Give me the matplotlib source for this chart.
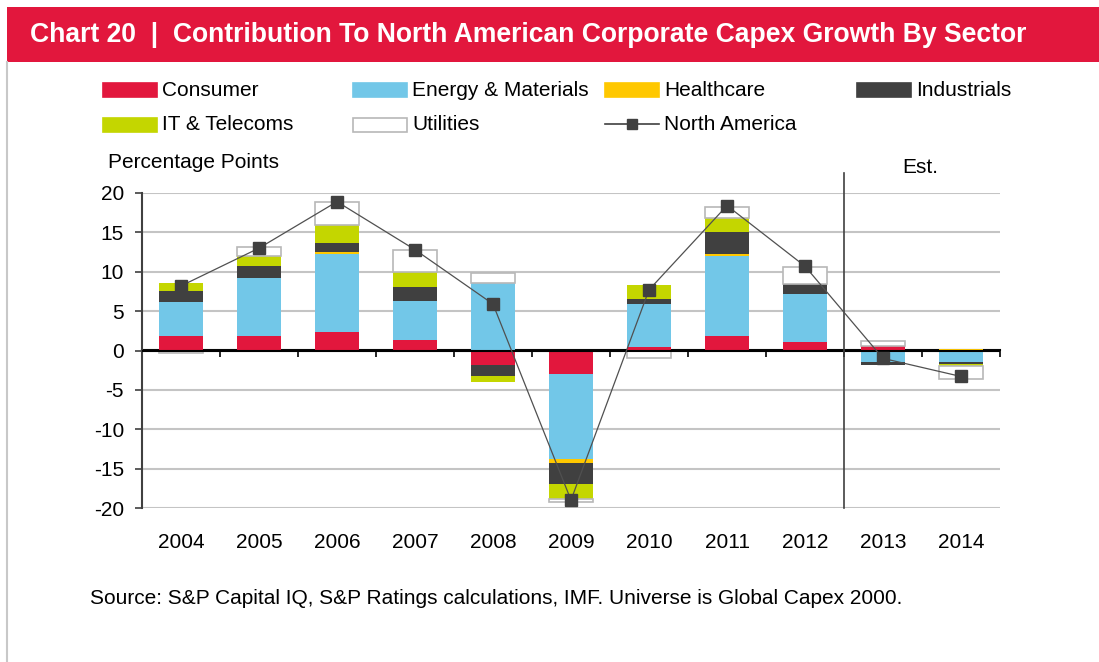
import numpy as np
import matplotlib
matplotlib.use("Agg")
import matplotlib.pyplot as plt
from matplotlib.patches import Rectangle
from matplotlib.lines import Line2D

plt.rcParams['font.family'] = ['Liberation Sans', 'DejaVu Sans']
plt.rcParams['axes.unicode_minus'] = False

years = ['2004', '2005', '2006', '2007', '2008', '2009', '2010', '2011', '2012', '2013', '2014']
consumer = [1.8, 1.8, 2.3, 1.3, -1.8, -3.0, 0.5, 1.8, 1.1, 0.6, 0.0]
energy = [4.3, 7.4, 9.9, 5.0, 8.6, -10.8, 5.4, 10.2, 6.1, -1.5, -1.5]
healthcare = [0.0, 0.0, 0.3, 0.0, 0.0, -0.5, 0.0, 0.2, 0.0, 0.0, 0.2]
industrials = [1.5, 1.5, 1.1, 1.8, -1.5, -2.7, 0.7, 2.8, 1.2, -0.4, -0.25]
it_telecoms = [1.0, 1.3, 2.3, 1.9, -0.7, -1.8, 1.7, 1.8, 0.0, 0.0, -0.2]
utilities = [-0.3, 1.2, 2.9, 2.7, 1.3, -0.4, -0.9, 1.4, 2.2, 0.6, -1.65]
north_america = [8.2, 13.0, 18.9, 12.8, 5.9, -19.0, 7.7, 18.4, 10.7, -1.0, -3.3]

sectors = ['Consumer', 'Energy & Materials', 'Healthcare', 'Industrials', 'IT & Telecoms', 'Utilities']
series = [consumer, energy, healthcare, industrials, it_telecoms, utilities]
colors = ['#E2173D', '#72C7E8', '#FFC800', '#404040', '#C4D600', '#FFFFFF']

W, H = 1099, 662
fig = plt.figure(figsize=(W / 100, H / 100), dpi=100)

def fx(px):
    return px / W

def fy(py):
    return 1 - py / H

# header band and frame
fig.add_artist(Rectangle((fx(7), fy(62)), fx(W - 7), fy(7) - fy(62),
                         transform=fig.transFigure, color='#E2173D', lw=0))
fig.add_artist(Line2D([fx(7), fx(7)], [fy(62), 0], transform=fig.transFigure,
                      color='#C8C8C8', lw=1.5))
fig.text(fx(30), fy(35), 'Chart 20  |  Contribution To North American Corporate Capex Growth By Sector',
         color='white', fontsize=19.1, fontweight='bold', va='center',
         family=['Liberation Sans Narrow', 'Liberation Sans', 'DejaVu Sans'])

# axes: x from 142 to 1000 px, y from 193 (20) to 508 (-20)
ax = fig.add_axes([fx(142), fy(508), fx(1000 - 142), fy(193) - fy(508)])
x = np.arange(len(years))
pos_bottom = np.zeros(len(years))
neg_bottom = np.zeros(len(years))
for name, vals, col in zip(sectors, series, colors):
    vals = np.array(vals)
    bottom = np.where(vals >= 0, pos_bottom, neg_bottom)
    if name == 'Utilities':
        ax.bar(x, vals, 0.56, bottom=bottom, color=col, edgecolor='#B8B8B8', lw=1.2, zorder=3)
    else:
        ax.bar(x, vals, 0.56, bottom=bottom, color=col, lw=0, zorder=3)
    pos_bottom += np.where(vals >= 0, vals, 0)
    neg_bottom += np.where(vals < 0, vals, 0)

ax.plot(x, north_america, color='#505050', lw=0.9, marker='s', ms=8,
        markerfacecolor='#404040', markeredgecolor='#404040', zorder=5)

ax.set_xlim(-0.5, len(years) - 0.5)
ax.set_ylim(-20, 20)
ax.set_yticks(np.arange(-20, 21, 5))
ax.yaxis.grid(True, color='#C4C4C4', lw=1.5, zorder=0)
ax.set_axisbelow(True)
for s in ['top', 'right', 'bottom']:
    ax.spines[s].set_visible(False)
ax.spines['left'].set_color('#404040')
ax.spines['left'].set_linewidth(1.5)
ax.tick_params(axis='y', length=5, width=1.2, color='#404040', labelsize=15, pad=8)
ax.set_xticks(x)
ax.set_xticklabels(years)
ax.tick_params(axis='x', length=0, labelsize=15, pad=18)

# zero axis line with ticks between categories, pointing down
ax.axhline(0, color='black', lw=1.5, zorder=4)
zero_ax = ax.secondary_xaxis(0.5)
zero_ax.set_xticks(np.arange(-0.5, len(years), 1))
zero_ax.set_xticklabels([])
zero_ax.tick_params(length=5, width=1.2, color='black', direction='in')
for s in ['top', 'bottom']:
    zero_ax.spines[s].set_linewidth(1.5)
    zero_ax.spines[s].set_color('black')

# estimate divider
ax.axvline(8.5, ymin=0, ymax=(22.5 + 20) / 40, color='#404040', lw=1.2, clip_on=False, zorder=4)

fig.text(fx(108), fy(163), 'Percentage Points', fontsize=15, va='center')
fig.text(fx(902), fy(167), 'Est.', fontsize=15, va='center')
fig.text(fx(90), fy(599), 'Source: S&P Capital IQ, S&P Ratings calculations, IMF. Universe is Global Capex 2000.',
         fontsize=15, va='center')

# legend
legend_pos = [(103, 90), (353, 90), (605, 90), (857, 90), (103, 125), (353, 125)]
for (lx, ly), name, col in zip(legend_pos, sectors, colors):
    edge = '#B8B8B8' if name == 'Utilities' else col
    fig.add_artist(Rectangle((fx(lx), fy(ly + 7)), fx(54), fy(ly - 7) - fy(ly + 7),
                             transform=fig.transFigure, facecolor=col, edgecolor=edge, lw=1.2))
    fig.text(fx(lx + 59), fy(ly), name, fontsize=15, va='center')
fig.add_artist(Line2D([fx(605), fx(659)], [fy(124), fy(124)], transform=fig.transFigure,
                      color='#404040', lw=1.2))
fig.add_artist(Line2D([fx(632)], [fy(124)], transform=fig.transFigure, marker='s', ms=7,
                      color='#404040'))
fig.text(fx(664), fy(125), 'North America', fontsize=15, va='center')

fig.savefig('out.png', dpi=100)
